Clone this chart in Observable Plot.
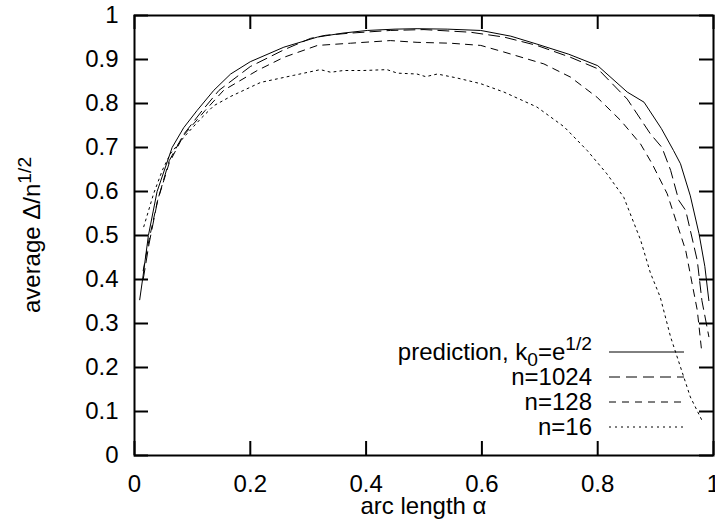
<!DOCTYPE html>
<html>
<head>
<meta charset="utf-8">
<script src="https://cdn.jsdelivr.net/npm/d3@7"></script>
<script src="https://cdn.jsdelivr.net/npm/@observablehq/plot@0.6"></script>
<style>
  html, body { margin: 0; padding: 0; background: white; }
</style>
</head>
<body>
<div id="chart"></div>
<script>
// ---- data ----
const xTicks = [0, 0.2, 0.4, 0.6, 0.8, 1];
const yTicks = [0, 0.1, 0.2, 0.3, 0.4, 0.5, 0.6, 0.7, 0.8, 0.9, 1];

const predAlpha = [0.009, 0.015, 0.024, 0.039, 0.065, 0.085, 0.108, 0.137, 0.166, 0.2, 0.258, 0.316, 0.36, 0.402, 0.45, 0.488, 0.54, 0.598, 0.65, 0.695, 0.75, 0.8, 0.851, 0.88, 0.91, 0.931, 0.943, 0.96, 0.975, 0.985, 0.992];
const predValue = [0.354, 0.41, 0.5, 0.6, 0.7, 0.745, 0.784, 0.83, 0.867, 0.895, 0.928, 0.951, 0.96, 0.966, 0.969, 0.97, 0.969, 0.966, 0.953, 0.935, 0.912, 0.886, 0.826, 0.803, 0.743, 0.693, 0.663, 0.59, 0.504, 0.43, 0.352];

const n1024Alpha = [0.015, 0.025, 0.04, 0.06, 0.085, 0.117, 0.146, 0.2, 0.258, 0.304, 0.33, 0.373, 0.442, 0.5, 0.58, 0.638, 0.695, 0.753, 0.8, 0.851, 0.891, 0.911, 0.926, 0.94, 0.952, 0.972, 0.98, 0.992];
const n1024Value = [0.40, 0.48, 0.58, 0.67, 0.73, 0.784, 0.83, 0.884, 0.922, 0.948, 0.955, 0.96, 0.966, 0.968, 0.962, 0.951, 0.932, 0.905, 0.879, 0.81, 0.731, 0.7, 0.648, 0.58, 0.557, 0.443, 0.352, 0.27];

const n128Alpha = [0.015, 0.025, 0.04, 0.06, 0.085, 0.122, 0.154, 0.212, 0.258, 0.316, 0.373, 0.442, 0.488, 0.546, 0.598, 0.638, 0.707, 0.753, 0.799, 0.84, 0.874, 0.894, 0.92, 0.952, 0.972, 0.98];
const n128Value = [0.42, 0.49, 0.58, 0.665, 0.728, 0.784, 0.83, 0.875, 0.905, 0.932, 0.937, 0.943, 0.939, 0.937, 0.932, 0.917, 0.89, 0.86, 0.814, 0.761, 0.708, 0.663, 0.595, 0.466, 0.33, 0.232];

const n16Alpha = [0.016, 0.033, 0.048, 0.062, 0.085, 0.114, 0.137, 0.166, 0.2, 0.218, 0.275, 0.321, 0.339, 0.361, 0.396, 0.436, 0.454, 0.488, 0.503, 0.523, 0.557, 0.598, 0.638, 0.695, 0.742, 0.782, 0.816, 0.845, 0.874, 0.891, 0.908, 0.926, 0.96, 0.98];
const n16Value = [0.52, 0.595, 0.648, 0.686, 0.723, 0.765, 0.795, 0.816, 0.837, 0.848, 0.864, 0.877, 0.871, 0.875, 0.875, 0.877, 0.869, 0.867, 0.861, 0.867, 0.858, 0.845, 0.826, 0.792, 0.747, 0.693, 0.64, 0.587, 0.49, 0.415, 0.36, 0.269, 0.133, 0.08];

const seriesLabels = ["prediction", "n=1024", "n=128", "n=16"];
const dashes = [null, "11,6", "7,6", "2,4"];

// ---- build tables ----
const toRows = (A, V) => A.map((a, i) => ({alpha: a, value: V[i]}));
const series = [
  toRows(predAlpha, predValue),
  toRows(n1024Alpha, n1024Value),
  toRows(n128Alpha, n128Value),
  toRows(n16Alpha, n16Value)
];

const W = 715, H = 521;
const mL = 134, mR = 2, mT = 15, mB = 66;
const innerW = W - mL - mR, innerH = H - mT - mB;
const tickLen = 14;
const FONT = "'Liberation Sans', Arial, Helvetica, sans-serif";
const FS = 24;

const lineMarks = series.map((rows, i) =>
  Plot.line(rows, {x: "alpha", y: "value", stroke: "black", strokeWidth: 1,
    strokeDasharray: dashes[i] || undefined})
);

const plot = Plot.plot({
  width: W, height: H,
  marginLeft: mL, marginRight: mR, marginTop: mT, marginBottom: mB,
  x: {domain: [0, 1]},
  y: {domain: [0, 1]},
  style: {fontFamily: FONT, fontSize: FS + "px", color: "black", background: "white", overflow: "visible"},
  marks: [
    Plot.tickX(xTicks, {x: d => d, insetTop: innerH - tickLen, strokeWidth: 2}),
    Plot.tickX(xTicks, {x: d => d, insetBottom: innerH - tickLen, strokeWidth: 2}),
    Plot.tickY(yTicks, {y: d => d, insetRight: innerW - tickLen, strokeWidth: 2}),
    Plot.tickY(yTicks, {y: d => d, insetLeft: innerW - tickLen, strokeWidth: 2}),
    Plot.axisX({ticks: xTicks, tickSize: 0, tickPadding: 19, label: null, tickFormat: d => String(d), fontSize: FS}),
    Plot.axisY({ticks: yTicks, tickSize: 0, tickPadding: 16, label: null, tickFormat: d => String(d), fontSize: FS}),
    ...lineMarks,
    Plot.frame({strokeWidth: 2})
  ]
});

document.getElementById("chart").appendChild(plot);

// ---- axis titles and legend (text with sub/superscripts) ----
const svg = d3.select(plot);
const g = svg.append("g").attr("font-family", FONT).attr("font-size", FS).attr("fill", "black");

// y label
const yl = g.append("text")
  .attr("transform", `translate(40,${mT + innerH / 2}) rotate(-90)`)
  .attr("text-anchor", "middle");
yl.append("tspan").text("average Δ/n");
yl.append("tspan").attr("font-size", FS * 0.8).attr("dy", -9).text("1/2");

// x label
g.append("text")
  .attr("x", mL + innerW / 2)
  .attr("y", 514)
  .attr("text-anchor", "middle")
  .text("arc length α");

// legend
const legX = 592, lineX1 = 609, lineX2 = 684;
const rowY = [352, 377, 402, 427];
rowY.forEach((y, i) => {
  const t = g.append("text").attr("x", legX).attr("y", y + 8).attr("text-anchor", "end");
  if (i === 0) {
    t.append("tspan").text("prediction, k");
    t.append("tspan").attr("font-size", FS * 0.8).attr("dy", 6).text("0");
    t.append("tspan").attr("dy", -6).text("=e");
    t.append("tspan").attr("font-size", FS * 0.8).attr("dy", -10).text("1/2");
  } else {
    t.text(seriesLabels[i]);
  }
  const ln = g.append("line")
    .attr("x1", lineX1).attr("x2", lineX2)
    .attr("y1", y).attr("y2", y)
    .attr("stroke", "black").attr("stroke-width", 1);
  if (dashes[i]) ln.attr("stroke-dasharray", dashes[i]);
});
</script>
</body>
</html>
